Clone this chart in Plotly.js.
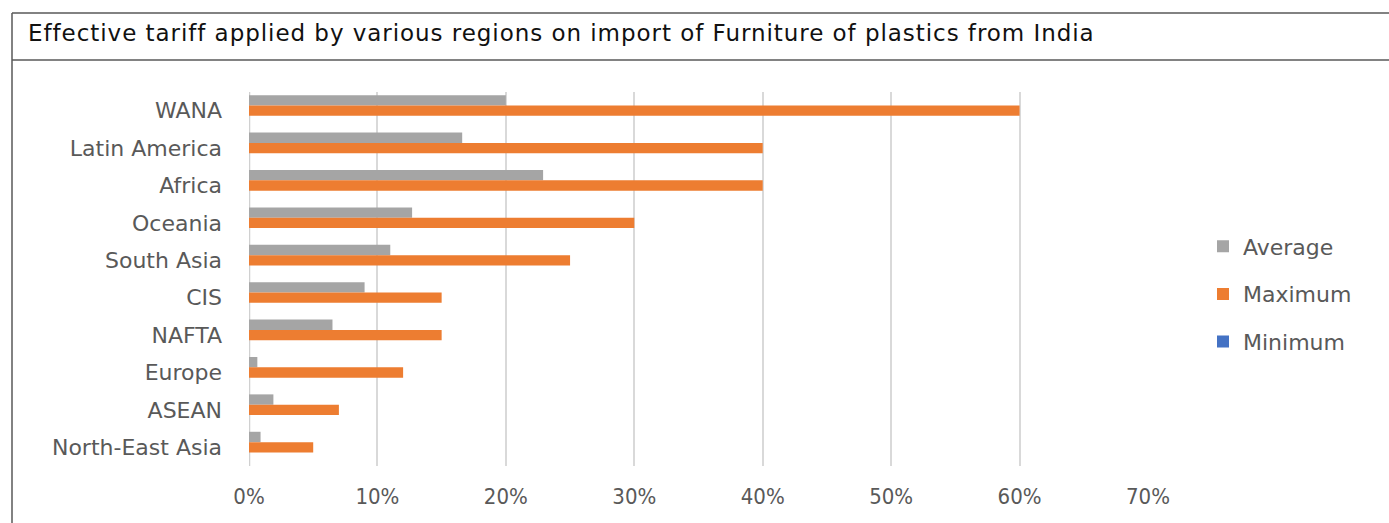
<!DOCTYPE html>
<html>
<head>
<meta charset="utf-8">
<script src="https://cdn.plot.ly/plotly-3.0.1.min.js"></script>
<style>
html,body{margin:0;padding:0;background:#fff;}
#chart{width:1389px;height:523px;}
#chart .gtitle{letter-spacing:0.95px;}
</style>
</head>
<body>
<div id="chart"></div>
<script>
const regions = ["WANA","Latin America","Africa","Oceania","South Asia","CIS","NAFTA","Europe","ASEAN","North-East Asia"];
const averageVals = [0.200,0.166,0.229,0.127,0.110,0.090,0.065,0.0065,0.019,0.009];
const maximumVals = [0.60,0.40,0.40,0.30,0.25,0.15,0.15,0.12,0.07,0.05];
const minimumVals = [0,0,0,0,0,0,0,0,0,0];
const xTickVals = [0,0.1,0.2,0.3,0.4,0.5,0.6,0.7];
const xTickText = ["0%","10%","20%","30%","40%","50%","60%","70%"];
const chartTitle = "Effective tariff applied by various regions on import of Furniture of plastics from India";

const W = 1389, H = 523;
const M = {l:249, r:241, t:92, b:57};
const pw = W - M.l - M.r, ph = H - M.t - M.b;
const px = x => (x - M.l) / pw;
const py = y => 1 - (y - M.t) / ph;

const txtColor = "#595959";
const font = "DejaVu Sans, sans-serif";

const traces = [
  {name:"Average", y:regions, x:averageVals, color:"#a5a5a5"},
  {name:"Maximum", y:regions, x:maximumVals, color:"#ed7d31"},
  {name:"Minimum", y:regions, x:minimumVals, color:"#4472c4"}
].map((t,i) => ({
  type:"bar", orientation:"h", name:t.name, x:t.x, y:t.y,
  marker:{color:t.color}, legendgroup:"g"+i, hoverinfo:"x+y+name"
}));

const borderColor = "#595959";
const layout = {
  width:W, height:H,
  margin:{l:M.l, r:M.r, t:M.t, b:M.b, pad:0},
  paper_bgcolor:"#fff", plot_bgcolor:"#fff",
  barmode:"group", bargap:0.17, bargroupgap:0,
  font:{family:font, color:txtColor},
  title:{text:chartTitle, x:28/W, xanchor:"left", xref:"container", y:1-(33/H), yanchor:"middle", yref:"container",
         font:{family:font, size:23, color:"#111"}},
  xaxis:{range:[0,0.7], tickvals:xTickVals, ticktext:xTickText, showgrid:true, gridcolor:"#d9d9d9", gridwidth:2,
         zeroline:false, showline:false, ticks:"", tickfont:{size:22, family:"DejaVu Sans Condensed, sans-serif", color:txtColor},
         ticklabelstandoff:15, fixedrange:true},
  yaxis:{type:"category", categoryorder:"array", categoryarray:regions, autorange:"reversed",
         showgrid:false, zeroline:false, showline:false, ticks:"",
         tickfont:{size:22, family:font, color:txtColor}, ticklabelstandoff:26, fixedrange:true},
  legend:{x:px(1203), xanchor:"left", y:py(294), yanchor:"middle", font:{size:22, family:font, color:txtColor},
          tracegroupgap:16, bgcolor:"rgba(0,0,0,0)"},
  shapes:[
    {type:"line", xref:"paper", yref:"paper", x0:px(12), x1:px(1400), y0:py(13), y1:py(13), line:{color:borderColor, width:1.5}},
    {type:"line", xref:"paper", yref:"paper", x0:px(12), x1:px(1400), y0:py(60), y1:py(60), line:{color:borderColor, width:1.5}},
    {type:"line", xref:"paper", yref:"paper", x0:px(12), x1:px(12), y0:py(13), y1:py(540), line:{color:borderColor, width:1.5}},
    {type:"line", xref:"x", yref:"paper", x0:0, x1:0, y0:0, y1:1, line:{color:"#d0d0d0", width:2.5}, layer:"below"}
  ]
};

Plotly.newPlot("chart", traces, layout, {displayModeBar:false, staticPlot:true});
</script>
</body>
</html>
